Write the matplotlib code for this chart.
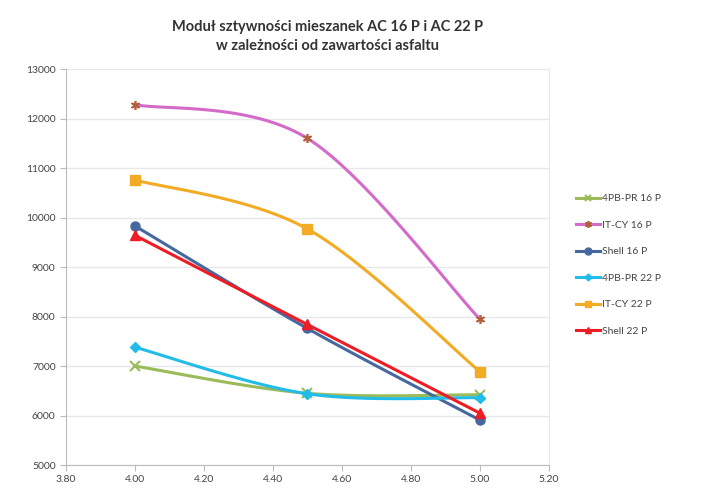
import numpy as np
import matplotlib
matplotlib.use("Agg")
import matplotlib.pyplot as plt

# asphalt content [%]
asphalt = [4.00, 4.50, 5.00]

series_names = ["4PB-PR 16 P", "IT-CY 16 P", "Shell 16 P", "4PB-PR 22 P", "IT-CY 22 P", "Shell 22 P"]
pbpr_16 = [7000, 6450, 6420]
itcy_16 = [12280, 11600, 7950]
shell_16 = [9830, 7760, 5910]
pbpr_22 = [7380, 6440, 6360]
itcy_22 = [10760, 9770, 6890]
shell_22 = [9640, 7840, 6050]

x_ticks = [3.80, 4.00, 4.20, 4.40, 4.60, 4.80, 5.00, 5.20]
y_ticks = [5000, 6000, 7000, 8000, 9000, 10000, 11000, 12000, 13000]

plt.rcParams["font.family"] = ["Lato", "DejaVu Sans"]


def smooth(xs, ys, n=40):
    # Excel-like smoothed line (Catmull-Rom bezier)
    pts = np.column_stack([xs, ys]).astype(float)
    ext = np.vstack([pts[0], pts, pts[-1]])
    out = []
    for i in range(1, len(ext) - 2):
        p0, p1, p2, p3 = ext[i - 1], ext[i], ext[i + 1], ext[i + 2]
        c1 = p1 + (p2 - p0) / 6
        c2 = p2 - (p3 - p1) / 6
        t = np.linspace(0, 1, n)[:, None]
        seg = (1 - t) ** 3 * p1 + 3 * (1 - t) ** 2 * t * c1 + 3 * (1 - t) * t ** 2 * c2 + t ** 3 * p2
        out.append(seg if i == 1 else seg[1:])
    seg = np.vstack(out)
    return seg[:, 0], seg[:, 1]


styles = [
    (pbpr_16, "#9BBB59", "x", "#9BBB59", 6.5, 1.5),
    (itcy_16, "#D46BC8", (6, 2, 0), "#B0603A", 6.5, 1.2),
    (shell_16, "#45689F", "o", "#45689F", 6.5, 1),
    (pbpr_22, "#22BCE8", "D", "#22BCE8", 5, 1),
    (itcy_22, "#F3AB25", "s", "#F3AB25", 6.5, 1),
    (shell_22, "#EE1C25", "^", "#EE1C25", 6.5, 1),
]

fig = plt.figure(figsize=(7.13, 4.88), dpi=100)
ax = fig.add_axes([0.0926, 0.047, 0.677, 0.8115])

for name, (vals, col, mk, mcol, ms, mew) in zip(series_names, styles):
    sx, sy = smooth(asphalt, vals)
    ax.plot(sx, sy, color=col, lw=2.2, zorder=2)
    ax.plot(asphalt, vals, ls="none", marker=mk, color=mcol, ms=ms, mew=mew, zorder=3)
    ax.plot([], [], color=col, lw=2.2, marker=mk, mfc=mcol, mec=mcol, ms=ms - 1.5, mew=mew, label=name)

ax.set_xlim(3.80, 5.20)
ax.set_ylim(5000, 13000)
ax.set_xticks(x_ticks)
ax.set_xticklabels([f"{v:.2f}" for v in x_ticks])
ax.set_yticks(y_ticks)
ax.grid(axis="y", color="#E6E9EA", lw=1)
ax.set_axisbelow(True)
ax.tick_params(labelsize=7.5, colors="#BBBBBB", labelcolor="#444444", length=4, width=0.8)
for s in ["left", "bottom"]:
    ax.spines[s].set_color("#BBBBBB")
ax.spines["right"].set_color("#E6E9EA")
ax.spines["top"].set_visible(False)

fig.text(0.46, 0.925, "Moduł sztywności mieszanek AC 16 P i AC 22 P\nw zależności od zawartości asfaltu",
         ha="center", va="center", fontsize=10.5, fontweight="bold", color="#333333", linespacing=1.5)

fig.legend(loc="center left", bbox_to_anchor=(0.795, 0.457), frameon=False, fontsize=7.5,
           labelcolor="#444444", handlelength=2.3, handletextpad=0.2, labelspacing=1.65)

fig.savefig("out.png", dpi=100)
